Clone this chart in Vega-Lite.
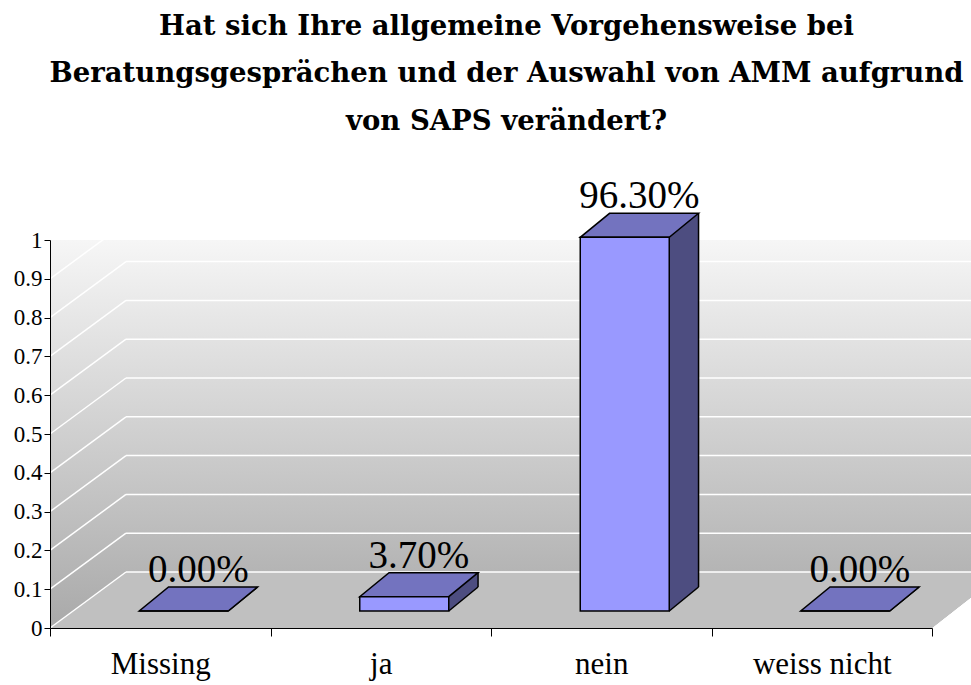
{
  "$schema": "https://vega.github.io/schema/vega-lite/v6.json",
  "autosize": {"type": "none"},
  "width": 921,
  "height": 388,
  "padding": {"left": 50, "top": 240, "right": 0, "bottom": 57},
  "background": "#FFFFFF",
  "title": {
    "text": ["Hat sich Ihre allgemeine Vorgehensweise bei", "Beratungsgesprächen und der Auswahl von AMM aufgrund", "von SAPS verändert?"],
    "font": "DejaVu Serif",
    "fontSize": 27.5,
    "fontWeight": "bold",
    "color": "#000000",
    "lineHeight": 47.5,
    "anchor": "middle",
    "frame": "group",
    "offset": 42,
    "dx": -4
  },
  "config": {
    "title": {"font": "DejaVu Serif", "fontWeight": "bold"},
    "axis": {"labelFont": "Liberation Serif"},
    "text": {"font": "Liberation Serif"},
    "view": {
      "stroke": null,
      "fill": {"gradient": "linear", "x1": 0, "y1": 0, "x2": 0, "y2": 1, "stops": [{"offset": 0, "color": "#F6F6F6"}, {"offset": 1, "color": "#A9A9A9"}]}
    }
  },
  "data": {
    "values": [
      {"Antwort": "Missing", "Anteil": 0},
      {"Antwort": "ja", "Anteil": 0.037},
      {"Antwort": "nein", "Anteil": 0.963},
      {"Antwort": "weiss nicht", "Anteil": 0}
    ]
  },
  "encoding": {
    "x": {
      "field": "Antwort",
      "type": "nominal",
      "sort": ["Missing", "ja", "nein", "weiss nicht"],
      "scale": {"type": "band", "domain": ["Missing", "ja", "nein", "weiss nicht"], "range": [0, 882], "paddingInner": 0, "paddingOuter": 0},
      "axis": {
        "title": null,
        "labelAngle": 0,
        "tickBand": "extent",
        "tickSize": 8,
        "labelFont": "Liberation Serif",
        "labelFontSize": 31,
        "labelColor": "#000000",
        "labelPadding": 13,
        "domainColor": "#000000",
        "tickColor": "#000000",
        "grid": false,
        "zindex": 1
      }
    },
    "y": {
      "field": "Anteil",
      "type": "quantitative",
      "scale": {"domain": [0, 1], "nice": false, "zero": true},
      "axis": {
        "title": null,
        "values": [0, 0.1, 0.2, 0.3, 0.4, 0.5, 0.6, 0.7, 0.8, 0.9, 1],
        "format": "~g",
        "labelFont": "Liberation Serif",
        "labelFontSize": 23,
        "labelColor": "#000000",
        "labelPadding": 2,
        "tickSize": 6,
        "tickColor": "#000000",
        "domainColor": "#000000",
        "grid": false,
        "zindex": 1
      }
    }
  },
  "layer": [
    {
      "mark": {"type": "point", "shape": "M-110.25,0L771.75,0L847.25,-56L-34.25,-56Z", "size": 4, "filled": true, "fill": "#C0C0C0", "strokeWidth": 0, "opacity": 1},
      "encoding": {"x": {"datum": "Missing"}, "y": {"datum": 0}}
    },
    {
      "mark": {"type": "point", "shape": "M771.75,0.5L812,0.5L812,-31Z", "size": 4, "filled": true, "fill": "#FFFFFF", "strokeWidth": 0, "opacity": 1},
      "encoding": {"x": {"datum": "Missing"}, "y": {"datum": 0}}
    },
    {
      "data": {"values": [{"t": 0}, {"t": 0.1}, {"t": 0.2}, {"t": 0.3}, {"t": 0.4}, {"t": 0.5}, {"t": 0.6}, {"t": 0.7}, {"t": 0.8}, {"t": 0.9}, {"t": 1}]},
      "mark": {"type": "rule", "color": "#FFFFFF", "strokeWidth": 1.5, "xOffset": -34.25, "x2Offset": 149.25, "yOffset": -56},
      "encoding": {"x": {"datum": "Missing"}, "x2": {"datum": "weiss nicht"}, "y": {"field": "t", "type": "quantitative"}}
    },
    {
      "data": {"values": [{"t": 0}, {"t": 0.1}, {"t": 0.2}, {"t": 0.3}, {"t": 0.4}, {"t": 0.5}, {"t": 0.6}, {"t": 0.7}, {"t": 0.8}, {"t": 0.9}, {"t": 1}]},
      "mark": {"type": "rule", "color": "#FFFFFF", "strokeWidth": 1.5, "xOffset": -110.25, "x2Offset": -34.25, "y2Offset": -56},
      "encoding": {"x": {"datum": "Missing"}, "x2": {"datum": "Missing"}, "y": {"field": "t", "type": "quantitative"}, "y2": {"field": "t"}}
    },
    {
      "data": {"values": [{"Teil": "Wandkante"}]},
      "mark": {"type": "rule", "color": "#FFFFFF", "strokeWidth": 1.5, "xOffset": -34.25, "yOffset": -56, "y2Offset": -56},
      "encoding": {"x": {"datum": "Missing"}, "y": {"datum": 0}, "y2": {"datum": 1}}
    },
    {
      "mark": {"type": "bar", "width": 29.3, "xOffset": 82.65, "yOffset": -41, "y2Offset": -17, "fill": "#4D4D80", "strokeWidth": 0},
      "encoding": {"y2": {"datum": 0}}
    },
    {
      "mark": {"type": "point", "shape": "M67.5,-16.5L99,-42.5L99,-14Z", "size": 4, "filled": true, "fill": "#C0C0C0", "strokeWidth": 0, "opacity": 1},
      "encoding": {"y": {"datum": 0}}
    },
    {
      "mark": {"type": "point", "shape": "M68,-17L97.3,-41", "size": 4, "filled": false, "fill": null, "stroke": "#000000", "strokeWidth": 1.5, "opacity": 1},
      "encoding": {"y": {"datum": 0}}
    },
    {
      "mark": {"type": "point", "shape": "M-21,-17L68,-17L97.3,-41L8.3,-41Z", "size": 4, "filled": true, "fill": "#7373BF", "stroke": "#000000", "strokeWidth": 1.5, "strokeJoin": "miter", "opacity": 1}
    },
    {
      "mark": {"type": "bar", "width": 89, "xOffset": 23.5, "yOffset": -17, "y2Offset": -17, "fill": "#9999FF", "stroke": "#000000", "strokeWidth": 1.5},
      "encoding": {"y2": {"datum": 0}}
    },
    {
      "mark": {"type": "rule", "color": "#000000", "strokeWidth": 1.5, "xOffset": 97.3, "yOffset": -41, "y2Offset": -41},
      "encoding": {"y2": {"datum": 0}}
    },
    {
      "mark": {"type": "text", "font": "Liberation Serif", "fontSize": 39, "color": "#000000", "align": "center", "baseline": "alphabetic", "xOffset": 38, "yOffset": -46},
      "encoding": {"text": {"field": "Anteil", "type": "quantitative", "format": ".2%"}}
    }
  ]
}
